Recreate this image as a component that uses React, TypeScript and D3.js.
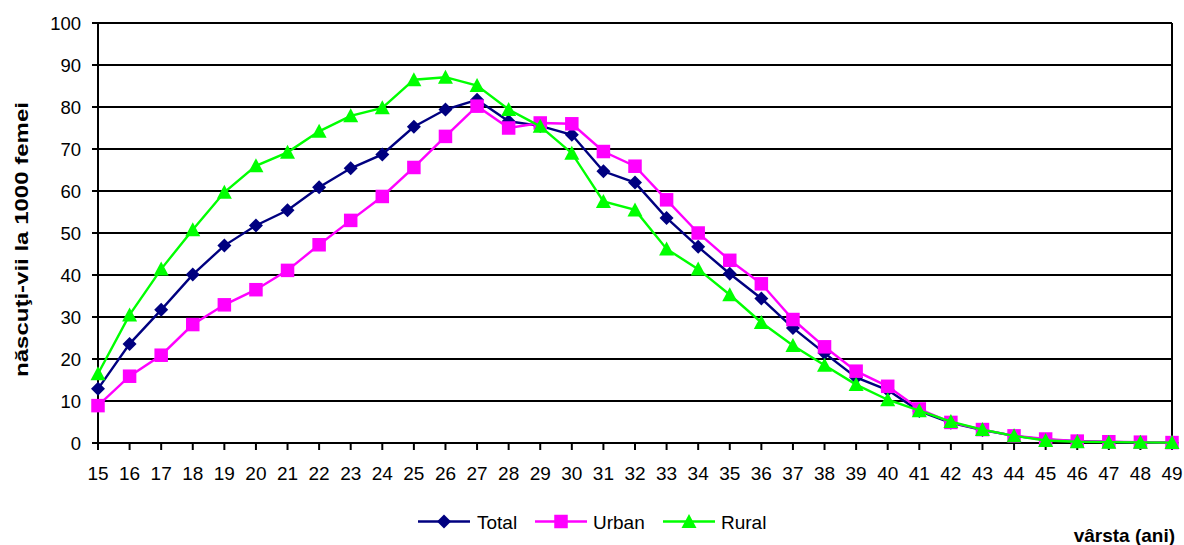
import React from "react";
import * as d3 from "d3";

const ages = d3.range(15, 50);
const totalValues = [12.9, 23.6, 31.7, 40.1, 47.0, 51.8, 55.4, 60.9, 65.4, 68.7, 75.3, 79.4, 81.7, 76.6, 75.5, 73.4, 64.7, 62.0, 53.6, 46.7, 40.3, 34.4, 27.4, 21.4, 15.6, 12.6, 7.6, 4.8, 3.1, 1.7, 0.8, 0.4, 0.25, 0.15, 0.08];
const urbanValues = [8.9, 15.9, 20.9, 28.2, 32.9, 36.5, 41.1, 47.2, 53.0, 58.7, 65.6, 73.0, 80.2, 75.0, 76.2, 76.0, 69.4, 65.9, 57.9, 50.0, 43.5, 37.9, 29.4, 22.9, 17.1, 13.5, 8.1, 4.9, 3.2, 1.7, 0.95, 0.45, 0.3, 0.2, 0.1];
const ruralValues = [16.5, 30.5, 41.4, 50.8, 59.7, 66.0, 69.2, 74.2, 77.9, 79.8, 86.5, 87.1, 85.1, 79.4, 75.4, 69.0, 57.5, 55.5, 46.2, 41.4, 35.3, 28.7, 23.2, 18.5, 13.9, 10.3, 7.7, 5.1, 3.2, 1.7, 0.6, 0.3, 0.2, 0.15, 0.1];
const yTicks = [0, 10, 20, 30, 40, 50, 60, 70, 80, 90, 100];
const seriesNames = ["Total", "Urban", "Rural"];
const seriesColors = ["#000080", "#FF00FF", "#00FF00"];
const markerKinds = ["diamond", "square", "triangle"];

const W = 1184;
const H = 545;
const left = 98;
const right = 1172;
const top = 23;
const bottom = 443;

function Marker({ kind, x, y, color }: { kind: string; x: number; y: number; color: string }) {
  if (kind === "diamond") {
    const r = 7;
    return <path d={`M${x},${y - r}L${x + r},${y}L${x},${y + r}L${x - r},${y}Z`} fill={color} />;
  }
  if (kind === "square") {
    const s = 13.5;
    return <rect x={x - s / 2} y={y - s / 2} width={s} height={s} fill={color} />;
  }
  const h = 13;
  const w = 15;
  return <path d={`M${x},${y - h / 2 - 1}L${x + w / 2},${y + h / 2}L${x - w / 2},${y + h / 2}Z`} fill={color} />;
}

export default function App() {
  const x = d3.scaleLinear().domain([15, 49]).range([left, right]);
  const y = d3.scaleLinear().domain([0, 100]).range([bottom, top]);
  const data = [totalValues, urbanValues, ruralValues];
  const line = d3
    .line<number>()
    .x((_, i) => x(ages[i]))
    .y((d) => y(d));
  const font = "Arial, 'Liberation Sans', sans-serif";
  const legendX = [418, 535, 663];
  const legendText = [477, 593, 721];
  return (
    <svg
      width={W}
      height={H}
      style={{ position: "absolute", left: 0, top: 0, background: "#fff" }}
      fontFamily={font}
    >
      {yTicks.map((t) => (
        <g key={t}>
          <line x1={left - 6} x2={right} y1={y(t)} y2={y(t)} stroke="#000" strokeWidth={2} />
          <text x={81} y={y(t) + 6.5} textAnchor="end" fontSize={18.5}>
            {t}
          </text>
        </g>
      ))}
      <line x1={left} x2={left} y1={top} y2={bottom} stroke="#000" strokeWidth={2} />
      <line x1={right} x2={right} y1={top} y2={bottom} stroke="#000" strokeWidth={2} />
      {ages.map((a) => (
        <g key={a}>
          <line x1={x(a)} x2={x(a)} y1={bottom} y2={bottom + 7} stroke="#000" strokeWidth={2} />
          <text x={x(a)} y={480} textAnchor="middle" fontSize={19}>
            {a}
          </text>
        </g>
      ))}
      {data.map((vals, si) => (
        <g key={si}>
          <path d={line(vals) || ""} fill="none" stroke={seriesColors[si]} strokeWidth={2.4} />
          {vals.map((v, i) => (
            <Marker key={i} kind={markerKinds[si]} x={x(ages[i])} y={y(v)} color={seriesColors[si]} />
          ))}
        </g>
      ))}
      <text
        transform={`translate(28,239.5) rotate(-90)`}
        textAnchor="middle"
        fontSize={19}
        fontWeight="bold"
        textLength={275}
        lengthAdjust="spacingAndGlyphs"
      >
        născuţi-vii la 1000 femei
      </text>
      {seriesNames.map((n, i) => (
        <g key={n}>
          <line x1={legendX[i]} x2={legendX[i] + 52} y1={521.5} y2={521.5} stroke={seriesColors[i]} strokeWidth={2.4} />
          <Marker kind={markerKinds[i]} x={legendX[i] + 26} y={521.5} color={seriesColors[i]} />
          <text x={legendText[i]} y={528.5} fontSize={19}>
            {n}
          </text>
        </g>
      ))}
      <text x={1175} y={542} textAnchor="end" fontSize={19} fontWeight="bold">
        vârsta (ani)
      </text>
    </svg>
  );
}
